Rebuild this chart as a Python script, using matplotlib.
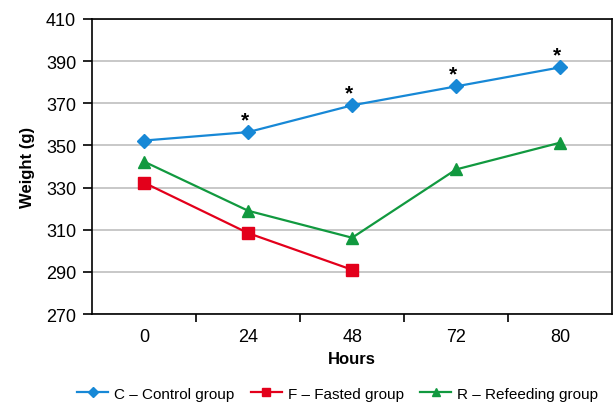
import matplotlib.pyplot as plt
import numpy as np

plt.rcParams['font.family'] = ['Liberation Sans', 'DejaVu Sans']

# data
hours = ["0", "24", "48", "72", "80"]
control = [352.3, 356.3, 369, 378, 387]
fasted = [332.3, 308.4, 291]
refeed = [342.3, 319, 306.2, 338.6, 351.3]
signif = [False, True, True, True, True]

x = np.arange(len(hours))

fig = plt.figure(figsize=(6.14, 4.06), dpi=100)
ax = fig.add_axes([0.150, 0.224, 0.847, 0.727])

ax.plot(x, control, color='#1788d6', marker='D', markersize=7, lw=1.6,
        label='C – Control group', zorder=3)
ax.plot(x[:len(fasted)], fasted, color='#e3001b', marker='s', markersize=8, lw=1.6,
        label='F – Fasted group', zorder=3)
ax.plot(x, refeed, color='#11993f', marker='^', markersize=8, lw=1.6,
        label='R – Refeeding group', zorder=3)

# significance stars
for xi, yi, s in zip(x, control, signif):
    if s:
        ax.text(xi - 0.03, yi + 1.5, '*', ha='center', va='bottom', fontsize=15,
                fontweight='bold')

ax.set_ylim(270, 410)
ax.set_yticks(np.arange(270, 411, 20))
ax.set_xlim(-0.5, len(hours) - 0.5)
ax.set_xticks(x)
ax.set_xticklabels(hours)
ax.set_xticks(np.arange(0.5, len(hours) - 0.5, 1), minor=True)
ax.tick_params(axis='x', which='major', length=0, pad=10, labelsize=13)
ax.tick_params(axis='x', which='minor', length=6, width=1.2, direction='out')
ax.tick_params(axis='y', length=6.5, width=1.2, labelsize=13, pad=5)
ax.grid(axis='y', color='#bfbfbf', lw=1.2)
ax.set_axisbelow(True)
for sp in ax.spines.values():
    sp.set_linewidth(1.2)

ax.set_xlabel('Hours', fontsize=12, fontweight='bold', labelpad=4)
ax.set_ylabel('Weight (g)', fontsize=12, fontweight='bold', labelpad=8)

fig.legend(loc='center', bbox_to_anchor=(0.55, 0.028), ncol=3, frameon=False,
           fontsize=11, handlelength=2.0, handletextpad=0.4, columnspacing=1.1,
           markerscale=0.75)

fig.savefig('out.png', dpi=100)
